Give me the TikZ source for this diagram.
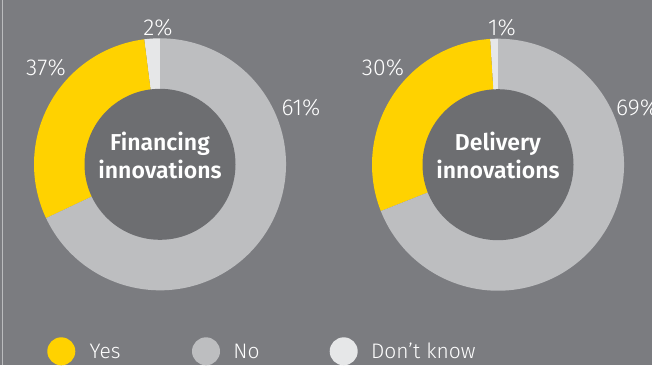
\documentclass[tikz,border=0pt]{standalone}
\usepackage{fontspec}
\setmainfont{Fira Sans Light}[BoldFont={Fira Sans SemiBold}]
\usetikzlibrary{positioning}
\definecolor{eygrey}{RGB}{123,124,128}
\definecolor{eyhole}{RGB}{109,110,113}
\definecolor{eyno}{RGB}{189,190,192}
\definecolor{eyyes}{RGB}{255,210,0}
\definecolor{eydk}{RGB}{230,231,232}

\begin{document}
\begin{tikzpicture}[x=1pt,y=1pt]
\fill[eygrey] (0,0) rectangle (652,365);
\useasboundingbox (0,0) rectangle (652,365);
\clip (0,0) rectangle (652,365);
\draw[eydk!60!eygrey, line width=1pt] (2.5,0) -- (2.5,365);
\tikzset{HoleStyle/.style ={circle, fill=eyhole, minimum size=151pt, inner sep=0}}
\tikzset{CenterStyle/.style ={text=white, align=center, inner sep=0, font=\bfseries\fontsize{23}{28}\selectfont}}
\tikzset{PctStyle/.style ={text=white, inner sep=0, font=\fontsize{23}{27}\selectfont}}
% financing innovations
\coordinate (finc) at (160,200.7);
\fill[eydk] (finc) -- ++(90:126) arc[start angle=90, end angle=97.2, radius=126] -- cycle;
\fill[eyyes] (finc) -- ++(97.2:126) arc[start angle=97.2, end angle=205.3, radius=126] -- cycle;
\fill[eyno] (finc) -- ++(205.3:126) arc[start angle=205.3, end angle=450, radius=126] -- cycle;
\node[HoleStyle] (finhole) at (finc) {};
\node[CenterStyle] (finlabel) at ([yshift=9pt]finhole.center) {Financing\\innovations};
\node[PctStyle] (findk) at (158,337.5) {2\%};
\node[PctStyle] (finyes) at (46,297) {37\%};
\node[PctStyle] (finno) at (301,257.5) {61\%};
% delivery innovations
\coordinate (delc) at (498,200.3);
\fill[eydk] (delc) -- ++(90:126) arc[start angle=90, end angle=93.6, radius=126] -- cycle;
\fill[eyyes] (delc) -- ++(93.6:126) arc[start angle=93.6, end angle=201.6, radius=126] -- cycle;
\fill[eyno] (delc) -- ++(201.6:126) arc[start angle=201.6, end angle=450, radius=126] -- cycle;
\node[HoleStyle] (delhole) at (delc) {};
\node[CenterStyle] (dellabel) at ([yshift=9pt]delhole.center) {Delivery\\innovations};
\node[PctStyle] (deldk) at (502,337) {1\%};
\node[PctStyle] (delyes) at (383,297) {30\%};
\node[PctStyle, anchor=west] (delno) at (616,257.5) {69\%};
% legend
\tikzset{DotStyle/.style ={circle, minimum size=28pt, inner sep=0}}
\tikzset{LegStyle/.style ={text=white, inner sep=0, font=\fontsize{21}{25}\selectfont}}
\node[DotStyle, fill=eyyes] (yesdot) at (61.3,13.7) {};
\node[LegStyle, right=14pt of yesdot] (yestext) {Yes};
\node[DotStyle, fill=eyno] (nodot) at (206,13.7) {};
\node[LegStyle, right=13pt of nodot] (notext) {No};
\node[DotStyle, fill=eydk] (dkdot) at (343.7,13.7) {};
\node[LegStyle, right=13pt of dkdot] (dktext) {Don’t know};
\end{tikzpicture}
\end{document}
